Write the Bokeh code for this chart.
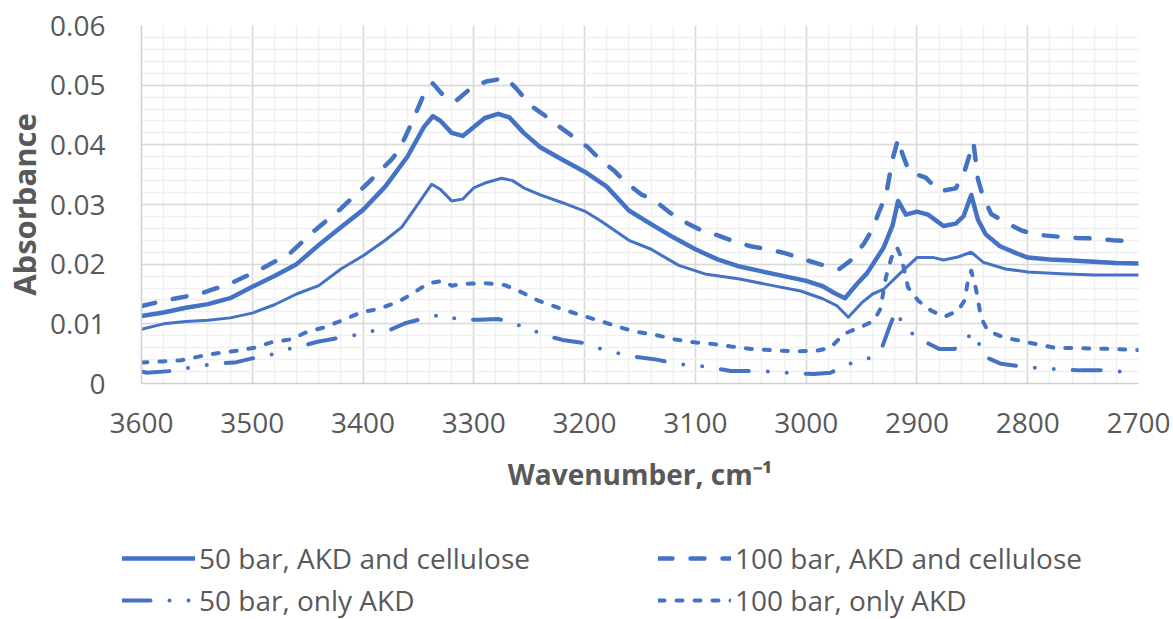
from bokeh.plotting import figure
from bokeh.models import Range1d, FixedTicker, Legend, LegendItem, NumeralTickFormatter
from bokeh.embed import file_html
from bokeh.resources import INLINE
import numpy as np

BLUE = "#4472C4"
TXT = "#595959"
FONT = "Open Sans"

x_ticks = [3600, 3500, 3400, 3300, 3200, 3100, 3000, 2900, 2800, 2700]
y_ticks = [0, 0.01, 0.02, 0.03, 0.04, 0.05, 0.06]

series_names = ["50 bar, AKD and cellulose", "100 bar, AKD and cellulose",
                "50 bar, only AKD", "100 bar, only AKD"]

# 50 bar, AKD and cellulose (thick solid)
wn_a = [3600, 3580, 3560, 3540, 3520, 3500, 3480, 3460, 3440, 3420, 3400, 3380, 3360, 3345, 3337,
        3330, 3320, 3310, 3300, 3290, 3278, 3268, 3255, 3240, 3220, 3200, 3180, 3160, 3140, 3120,
        3100, 3080, 3060, 3040, 3020, 3000, 2985, 2975, 2965, 2955, 2945, 2930, 2922, 2917, 2910,
        2900, 2890, 2876, 2865, 2858, 2851, 2845, 2838, 2825, 2810, 2800, 2780, 2760, 2740, 2720, 2700]
abs_a = [0.0113, 0.0119, 0.0127, 0.0133, 0.0143, 0.0162, 0.0180, 0.0200, 0.0232, 0.0262, 0.0291,
         0.0330, 0.0380, 0.0430, 0.0448, 0.0440, 0.0420, 0.0415, 0.0430, 0.0445, 0.0452, 0.0446,
         0.0420, 0.0396, 0.0375, 0.0355, 0.0330, 0.0290, 0.0267, 0.0245, 0.0225, 0.0208, 0.0196,
         0.0188, 0.0180, 0.0172, 0.0163, 0.0152, 0.0143, 0.0165, 0.0185, 0.0228, 0.0265, 0.0306,
         0.0283, 0.0288, 0.0283, 0.0264, 0.0268, 0.0280, 0.0316, 0.0275, 0.0250, 0.0230, 0.0218,
         0.0211, 0.0208, 0.0206, 0.0204, 0.0202, 0.0201]

# unlabelled thin solid curve
wn_b = [3600, 3580, 3560, 3540, 3520, 3500, 3480, 3460, 3440, 3420, 3400, 3380, 3365, 3350, 3338,
        3330, 3320, 3310, 3300, 3290, 3275, 3265, 3255, 3240, 3220, 3200, 3185, 3160, 3140, 3115,
        3090, 3060, 3030, 3005, 2985, 2972, 2962, 2950, 2940, 2930, 2915, 2900, 2885, 2876, 2863,
        2851, 2840, 2820, 2800, 2770, 2740, 2700]
abs_b = [0.0091, 0.0100, 0.0104, 0.0106, 0.0110, 0.0118, 0.0132, 0.0150, 0.0164, 0.0192, 0.0214,
         0.0240, 0.0262, 0.0302, 0.0334, 0.0325, 0.0306, 0.0309, 0.0328, 0.0336, 0.0344, 0.0340,
         0.0328, 0.0316, 0.0303, 0.0289, 0.0272, 0.0240, 0.0225, 0.0198, 0.0183, 0.0175, 0.0164,
         0.0155, 0.0142, 0.0130, 0.0111, 0.0135, 0.0150, 0.0158, 0.0185, 0.0211, 0.0211, 0.0207,
         0.0212, 0.0220, 0.0203, 0.0192, 0.0187, 0.0184, 0.0182, 0.0182]

# 100 bar, AKD and cellulose (long dash)
wn_c = [3600, 3576, 3546, 3519, 3492, 3466, 3444, 3420, 3395, 3374, 3367, 3356, 3345, 3337, 3325,
        3316, 3302, 3289, 3271, 3262, 3248, 3238, 3224, 3215, 3197, 3188, 3173, 3164, 3149, 3137,
        3122, 3111, 3095, 3081, 3065, 3050, 3032, 3020, 3002, 2988, 2970, 2960, 2948, 2940, 2934,
        2928, 2922, 2917, 2913, 2907, 2892, 2880, 2865, 2857, 2849, 2845, 2841, 2833, 2820, 2805,
        2790, 2772, 2756, 2739, 2723, 2700]
abs_c = [0.0130, 0.0140, 0.0151, 0.0168, 0.0192, 0.0218, 0.0256, 0.0293, 0.0337, 0.0376, 0.0393,
         0.0437, 0.0485, 0.0503, 0.0477, 0.0474, 0.0496, 0.0506, 0.0512, 0.0495, 0.0465, 0.0452,
         0.0432, 0.0420, 0.0396, 0.0379, 0.0356, 0.0339, 0.0317, 0.0307, 0.0285, 0.0272, 0.0257,
         0.0249, 0.0238, 0.0230, 0.0224, 0.0219, 0.0208, 0.0200, 0.0192, 0.0206, 0.0234, 0.0259,
         0.0289, 0.0315, 0.0376, 0.0410, 0.0384, 0.0355, 0.0345, 0.0322, 0.0327, 0.0356, 0.0404,
         0.0343, 0.0317, 0.0284, 0.0270, 0.0256, 0.0249, 0.0246, 0.0244, 0.0243, 0.0240, 0.0238]

# 100 bar, only AKD (short dash)
wn_d = [3600, 3582, 3564, 3546, 3528, 3513, 3498, 3483, 3465, 3450, 3435, 3420, 3402, 3386, 3368,
        3356, 3341, 3328, 3320, 3308, 3290, 3272, 3257, 3242, 3224, 3206, 3188, 3173, 3155, 3137,
        3119, 3101, 3083, 3068, 3050, 3032, 3011, 2990, 2978, 2966, 2948, 2939, 2933, 2928, 2923,
        2918, 2914, 2908, 2899, 2887, 2875, 2863, 2857, 2854, 2851, 2847, 2842, 2836, 2821, 2800,
        2776, 2749, 2725, 2700]
abs_d = [0.0035, 0.0037, 0.0039, 0.0046, 0.0052, 0.0055, 0.0060, 0.0069, 0.0074, 0.0087, 0.0094,
         0.0105, 0.0119, 0.0125, 0.0137, 0.0150, 0.0168, 0.0172, 0.0164, 0.0167, 0.0168, 0.0165,
         0.0153, 0.0139, 0.0127, 0.0116, 0.0106, 0.0097, 0.0087, 0.0082, 0.0074, 0.0069, 0.0066,
         0.0062, 0.0058, 0.0056, 0.0054, 0.0055, 0.0060, 0.0083, 0.0097, 0.0105, 0.0125, 0.0178,
         0.0211, 0.0228, 0.0211, 0.0161, 0.0139, 0.0122, 0.0112, 0.0122, 0.0139, 0.0172, 0.0189,
         0.0161, 0.0110, 0.0088, 0.0077, 0.0069, 0.0060, 0.0059, 0.0058, 0.0056]

# 50 bar, only AKD (long dash-dot)
wn_e = [3600, 3595, 3573, 3555, 3531, 3516, 3498, 3486, 3474, 3457, 3441, 3420, 3405, 3396, 3378,
        3362, 3341, 3328, 3314, 3295, 3278, 3262, 3254, 3245, 3238, 3220, 3201, 3185, 3173, 3155,
        3135, 3117, 3098, 3083, 3068, 3048, 3030, 3011, 2993, 2978, 2961, 2945, 2931, 2925, 2919,
        2911, 2896, 2880, 2866, 2857, 2851, 2847, 2840, 2824, 2800, 2772, 2752, 2734, 2700]
abs_e = [0.0020, 0.0018, 0.0021, 0.0027, 0.0034, 0.0035, 0.0043, 0.0046, 0.0055, 0.0062, 0.0070,
         0.0077, 0.0082, 0.0088, 0.0088, 0.0101, 0.0111, 0.0116, 0.0107, 0.0107, 0.0108, 0.0101,
         0.0091, 0.0088, 0.0082, 0.0073, 0.0068, 0.0058, 0.0052, 0.0045, 0.0040, 0.0033, 0.0030,
         0.0026, 0.0021, 0.0021, 0.0020, 0.0017, 0.0016, 0.0018, 0.0033, 0.0040, 0.0063, 0.0094,
         0.0122, 0.0093, 0.0073, 0.0058, 0.0058, 0.0069, 0.0085, 0.0082, 0.0046, 0.0033, 0.0027,
         0.0024, 0.0022, 0.0022, 0.0018]

for a, b in [(wn_a, abs_a), (wn_b, abs_b), (wn_c, abs_c), (wn_d, abs_d), (wn_e, abs_e)]:
    assert len(a) == len(b), (len(a), len(b))

STYLES = {
    "a": dict(line_width=4.5),
    "b": dict(line_width=3),
    "c": dict(line_width=4.5, line_dash="14 18"),
    "d": dict(line_width=4, line_dash="6 12"),
    "e": dict(line_width=4, line_dash="28 19 0 19 0 19"),
}
COMMON = dict(line_color=BLUE, line_join="round", line_cap="round")

p = figure(width=1173, height=500,
           x_range=Range1d(3600, 2700), y_range=Range1d(0, 0.06),
           output_backend="svg", toolbar_location=None,
           min_border_left=140, min_border_right=35, min_border_top=25, min_border_bottom=117)
p.outline_line_color = None
p.background_fill_color = "white"
p.border_fill_color = "white"

p.xaxis.ticker = FixedTicker(ticks=x_ticks, minor_ticks=list(np.arange(3600, 2699, -20)))
p.yaxis.ticker = FixedTicker(ticks=y_ticks, minor_ticks=list(np.round(np.arange(0, 0.0601, 0.002), 4)))
p.yaxis.formatter = NumeralTickFormatter(format="0.[00]")

for ax in (p.xaxis, p.yaxis):
    ax.major_tick_line_color = None
    ax.minor_tick_line_color = None
    ax.axis_line_color = "#D0D0D0"
    ax.axis_line_width = 1.5
    ax.major_label_text_font = FONT
    ax.major_label_text_font_size = "28px"
    ax.major_label_text_color = TXT
    ax.axis_label_text_font = FONT
    ax.axis_label_text_font_style = "bold"
    ax.axis_label_text_color = TXT

p.xaxis.major_label_standoff = 23
p.yaxis.major_label_standoff = 30
p.xaxis.axis_label = "Wavenumber, cm\u207b\u00b9"
p.yaxis.axis_label = "Absorbance"
p.xaxis.axis_label_text_font_size = "28px"
p.yaxis.axis_label_text_font_size = "31px"
p.xaxis.axis_label_standoff = 19
p.yaxis.axis_label_standoff = 2

for g in (p.xgrid, p.ygrid):
    g.grid_line_color = "#D9D9D9"
    g.grid_line_width = 1.5
    g.minor_grid_line_color = "#F0F0F0"
    g.minor_grid_line_width = 1.5

r_b = p.line(wn_b, abs_b, **COMMON, **STYLES["b"])
r_a = p.line(wn_a, abs_a, **COMMON, **STYLES["a"])
r_c = p.line(wn_c, abs_c, **COMMON, **STYLES["c"])
r_e = p.line(wn_e, abs_e, **COMMON, **STYLES["e"])
r_d = p.line(wn_d, abs_d, **COMMON, **STYLES["d"])

# legend strip below the chart: same series, drawn in a range where they are not visible,
# only their legend samples show
q = figure(width=1173, height=119, x_range=Range1d(0, 1), y_range=Range1d(0, 1),
           output_backend="svg", toolbar_location=None,
           x_axis_location=None, y_axis_location=None, min_border=0)
q.outline_line_color = None
q.xgrid.visible = False
q.ygrid.visible = False
k_a = q.line(wn_a, abs_a, **COMMON, **STYLES["a"])
k_c = q.line(wn_c, abs_c, **COMMON, **STYLES["c"])
k_e = q.line(wn_e, abs_e, **COMMON, **STYLES["e"])
k_d = q.line(wn_d, abs_d, **COMMON, **STYLES["d"])

legend = Legend(items=[LegendItem(label=series_names[0], renderers=[k_a]),
                       LegendItem(label=series_names[1], renderers=[k_c]),
                       LegendItem(label=series_names[2], renderers=[k_e]),
                       LegendItem(label=series_names[3], renderers=[k_d])],
                ncols=2, orientation="horizontal",
                location=(122, 0),
                padding=0, margin=0, spacing=4,
                glyph_width=73, glyph_height=36, label_height=36, label_width=455,
                label_standoff=4,
                label_text_font=FONT, label_text_font_size="28px", label_text_color=TXT,
                border_line_color=None, background_fill_alpha=0)
q.add_layout(legend)

open("out.html", "w").write(file_html([p, q], INLINE))
